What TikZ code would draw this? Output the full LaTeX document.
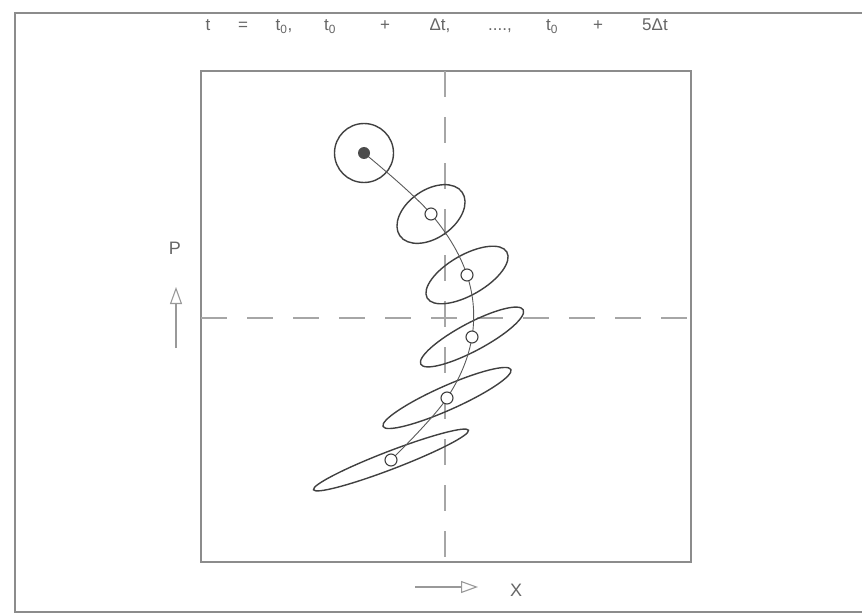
\documentclass[tikz,border=0pt]{standalone}
\usepackage{fontspec}
\setmainfont{Liberation Sans}
\usetikzlibrary{arrows.meta}
\begin{document}
\begin{tikzpicture}[x=1pt,y=-1pt,
  frame/.style={draw=black!45,line width=1.4pt},
  axisdash/.style={draw=black!35,line width=1.3pt,dash pattern=on 26pt off 20pt},
  ell/.style={draw=black!75,line width=1.4pt},
  traj/.style={draw=black!65,line width=0.9pt},
  pt/.style={circle,draw=black!75,line width=1.1pt,fill=white,inner sep=0pt,minimum size=12pt},
  start/.style={circle,fill=black!70,inner sep=0pt,minimum size=12pt},
  ttl/.style={text=black!60,font=\fontsize{17}{17}\selectfont,inner sep=0pt,anchor=base},
  lbl/.style={text=black!60,font=\fontsize{18}{18}\selectfont,inner sep=0pt},
  axarrow/.style={draw=black!40,line width=1.1pt,-{Triangle[open,length=17pt,width=12pt]}}]
\useasboundingbox (0,0) rectangle (862,615);
% outer frame
\coordinate (o1) at (862,13);
\coordinate (o2) at (15,13);
\coordinate (o3) at (15,612);
\coordinate (o4) at (862,612);
\draw[frame] (o1) -- (o2) -- (o3) -- (o4);
% inner box
\node[frame,minimum width=490pt,minimum height=491pt,inner sep=0pt] (box) at (446,316.5) {};
% dashed axes
\coordinate (vt) at (445,71);
\coordinate (vb) at (445,562);
\coordinate (hl) at (201,318);
\coordinate (hr) at (691,318);
\draw[axisdash] (vt) -- (vb);
\draw[axisdash] (hl) -- (hr);
% centres
\coordinate (c1) at (364,153);
\coordinate (c2) at (431,214);
\coordinate (c3) at (467,275);
\coordinate (c4) at (472,337);
\coordinate (c5) at (447,398);
\coordinate (c6) at (391,460);
% ellipses
\draw[ell] (c1) circle [radius=29.5pt];
\draw[ell,rotate around={35:(c2)}] (c2) ellipse [x radius=38pt,y radius=24pt];
\draw[ell,rotate around={30:(c3)}] (c3) ellipse [x radius=46pt,y radius=20pt];
\draw[ell,rotate around={28:(c4)}] (c4) ellipse [x radius=58pt,y radius=14pt];
\draw[ell,rotate around={24:(c5)}] (c5) ellipse [x radius=70pt,y radius=12pt];
\draw[ell,rotate around={21:(c6)}] (c6) ellipse [x radius=83pt,y radius=9pt];
% trajectory
\draw[traj] plot[smooth,tension=0.6] coordinates {(c1) (c2) (c3) (c4) (c5) (c6)};
\node[start] (p1) at (c1) {};
\node[pt] (p2) at (c2) {};
\node[pt] (p3) at (c3) {};
\node[pt] (p4) at (c4) {};
\node[pt] (p5) at (c5) {};
\node[pt] (p6) at (c6) {};
% title
\node[ttl] (t1) at (208,31) {t};
\node[ttl] (t2) at (243,31) {=};
\node[ttl] (t3) at (284,31) {t\textsubscript{0},};
\node[ttl] (t4) at (330,31) {t\textsubscript{0}};
\node[ttl] (t5) at (385,31) {+};
\node[ttl] (t6) at (440,31) {Δt,};
\node[ttl] (t7) at (500,31) {....,};
\node[ttl] (t8) at (552,31) {t\textsubscript{0}};
\node[ttl] (t9) at (598,31) {+};
\node[ttl] (t10) at (655,31) {5Δt};
% axis labels
\node[lbl] (P) at (175,248) {P};
\coordinate (pa1) at (176,348);
\coordinate (pa2) at (176,287);
\draw[axarrow] (pa1) -- (pa2);
\coordinate (xa1) at (415,587);
\coordinate (xa2) at (478,587);
\draw[axarrow] (xa1) -- (xa2);
\node[lbl] (X) at (516,590) {X};
\end{tikzpicture}
\end{document}
